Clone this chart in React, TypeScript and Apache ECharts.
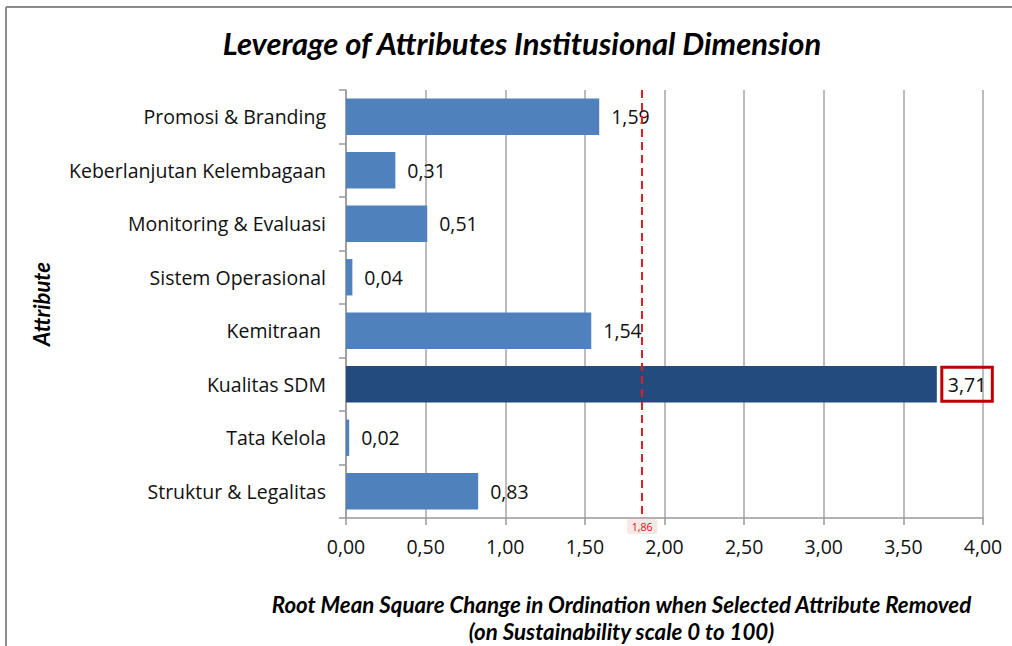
import React, { useEffect, useRef } from "react";
import * as echarts from "echarts";

const categories = [
  "Promosi & Branding",
  "Keberlanjutan Kelembagaan",
  "Monitoring & Evaluasi",
  "Sistem Operasional",
  "Kemitraan ",
  "Kualitas SDM",
  "Tata Kelola",
  "Struktur & Legalitas",
];
const values = [1.59, 0.31, 0.51, 0.04, 1.54, 3.71, 0.02, 0.83];
const highlightIndex = 5;
const thresholdValue = 1.86;
const xMin = 0;
const xMax = 4;
const xInterval = 0.5;

const fmt = (v: number) => v.toFixed(2).replace(".", ",");
const FONT = "'Open Sans', 'Noto Sans', sans-serif";

export default function App() {
  const ref = useRef<HTMLDivElement>(null);
  useEffect(() => {
    if (!ref.current) return;
    const chart = echarts.init(ref.current, null, { renderer: "svg" });
    const data = values.map((v, i) =>
      i === highlightIndex
        ? {
            value: v,
            itemStyle: { color: "#234B7D" },
            label: {
              distance: 5,
              borderColor: "#C00000",
              borderWidth: 3,
              padding: [8, 6, 6, 6],
            },
          }
        : { value: v }
    );
    chart.setOption({
      animation: false,
      backgroundColor: "#ffffff",
      textStyle: { fontFamily: FONT },
      title: {
        text: "Leverage of Attributes Institusional Dimension",
        left: 517,
        textAlign: "center",
        top: 22,
        textStyle: {
          fontFamily: "Lato, sans-serif",
          fontStyle: "italic",
          fontWeight: "bold",
          fontSize: 31,
          color: "#000",
        },
      },
      graphic: [
        {
          type: "line",
          shape: { x1: 6, y1: 7, x2: 1012, y2: 7 },
          style: { stroke: "#8c8c8c", lineWidth: 2 },
        },
        {
          type: "line",
          shape: { x1: 6, y1: 7, x2: 6, y2: 646 },
          style: { stroke: "#8c8c8c", lineWidth: 2 },
        },
      ],
      grid: {
        left: 346,
        right: 29,
        top: 90,
        bottom: 128,
        containLabel: false,
        outerBoundsMode: "none",
      },
      xAxis: {
        type: "value",
        min: xMin,
        max: xMax,
        interval: xInterval,
        axisLine: { show: true, lineStyle: { color: "#999", width: 1.5 } },
        axisTick: { show: true, length: 7, lineStyle: { color: "#999", width: 1.5 } },
        splitLine: { show: true, lineStyle: { color: "#a6a6a6", width: 1.5 } },
        axisLabel: {
          formatter: (v: number) => fmt(v),
          fontSize: 19.5,
          color: "#111",
          margin: 18,
          fontFamily: FONT,
        },
        name: "Root Mean Square Change in Ordination when Selected Attribute Removed\n(on Sustainability scale 0 to 100)",
        nameLocation: "middle",
        nameGap: 73,
        nameTextStyle: {
          fontFamily: "Lato, sans-serif",
          fontStyle: "italic",
          fontWeight: "bold",
          fontSize: 22.3,
          lineHeight: 27,
          color: "#000",
          padding: [0, 86, 0, 0],
        },
      },
      yAxis: {
        type: "category",
        data: categories,
        inverse: true,
        axisLine: { show: true, lineStyle: { color: "#999", width: 1.5 } },
        axisTick: { show: true, length: 7, lineStyle: { color: "#999", width: 1.5 } },
        axisLabel: { fontSize: 19.5, color: "#111", margin: 20, fontFamily: FONT },
        name: "Attribute",
        nameLocation: "middle",
        nameGap: 294,
        nameRotate: 90,
        nameTextStyle: {
          fontFamily: "Lato, sans-serif",
          fontStyle: "italic",
          fontWeight: "bold",
          fontSize: 22,
          color: "#000",
        },
      },
      series: [
        {
          type: "bar",
          data,
          barCategoryGap: "32%",
          itemStyle: { color: "#4F81BD" },
          label: {
            show: true,
            position: "right",
            distance: 12,
            formatter: (p: any) => fmt(p.value),
            fontSize: 19.5,
            color: "#111",
            fontFamily: FONT,
          },
          markLine: {
            silent: true,
            symbol: ["none", "none"],
            lineStyle: { color: "#E02020", type: [8, 5], width: 2 },
            label: {
              show: true,
              position: "end",
              formatter: () => fmt(thresholdValue),
              color: "#D01010",
              fontSize: 10.5,
              backgroundColor: "#FDE6E6",
              padding: [2, 5],
              borderRadius: 3,
              distance: 1,
            },
            data: [{ xAxis: thresholdValue }],
          },
        },
      ],
    });
    return () => chart.dispose();
  }, []);
  return (
    <div
      ref={ref}
      style={{ position: "fixed", left: 0, top: 0, width: 1012, height: 646 }}
    />
  );
}
